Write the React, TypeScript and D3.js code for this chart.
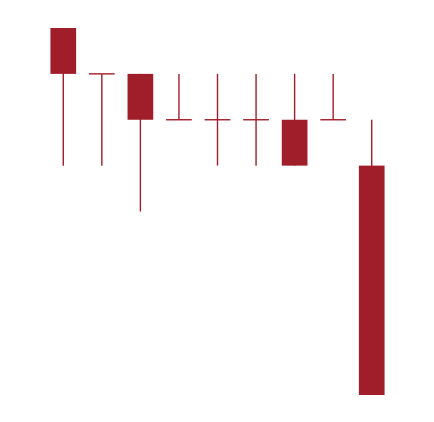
import { useEffect, useRef } from "react";
import * as d3 from "d3";

interface Candle {
  label: string;
  open: number;
  high: number;
  low: number;
  close: number;
}

// Candle values (no axes shown)
const labels = ["1", "2", "3", "4", "5", "6", "7", "8", "9"];
const opens = [10, 9, 9, 8, 8, 8, 8, 8, 7];
const highs = [10, 9, 9, 9, 9, 9, 9, 9, 8];
const lows = [7, 7, 6, 8, 7, 7, 7, 8, 2];
const closes = [9, 9, 8, 8, 8, 8, 7, 8, 2];

const data: Candle[] = labels.map((label, i) => ({
  label,
  open: opens[i],
  high: highs[i],
  low: lows[i],
  close: closes[i],
}));

export default function App() {
  const svgRef = useRef<SVGSVGElement>(null);

  useEffect(() => {
    if (!svgRef.current) return;

    const width = 434;
    const height = 422;
    const color = "#a01e29";

    const svg = d3.select(svgRef.current);
    svg.selectAll("*").remove();
    svg.attr("width", width).attr("height", height);

    // Scales
    const xScale = d3
      .scaleBand<string>()
      .domain(labels)
      .range([44, 391])
      .paddingInner(1 / 3)
      .paddingOuter(1 / 6);

    const yScale = d3.scaleLinear().domain([2, 10]).range([395, 28]);

    const bw = xScale.bandwidth();

    const g = svg.append("g");

    const candle = g
      .selectAll("g.candle")
      .data(data)
      .join("g")
      .attr("class", "candle")
      .attr("transform", (d) => `translate(${xScale(d.label)},0)`);

    // Wicks
    candle
      .append("line")
      .attr("x1", bw / 2)
      .attr("x2", bw / 2)
      .attr("y1", (d) => yScale(d.high))
      .attr("y2", (d) => yScale(d.low))
      .attr("stroke", color)
      .attr("stroke-width", 1.4);

    // Bodies
    candle
      .filter((d) => d.open !== d.close)
      .append("rect")
      .attr("x", 0)
      .attr("width", bw)
      .attr("y", (d) => yScale(Math.max(d.open, d.close)))
      .attr("height", (d) =>
        Math.abs(yScale(d.open) - yScale(d.close))
      )
      .attr("fill", color);

    // Doji lines
    candle
      .filter((d) => d.open === d.close)
      .append("line")
      .attr("x1", 0)
      .attr("x2", bw)
      .attr("y1", (d) => yScale(d.open))
      .attr("y2", (d) => yScale(d.open))
      .attr("stroke", color)
      .attr("stroke-width", 1.4);
  }, []);

  return (
    <div style={{ position: "fixed", left: 0, top: 0, background: "#fff" }}>
      <svg ref={svgRef} style={{ display: "block" }} />
    </div>
  );
}
